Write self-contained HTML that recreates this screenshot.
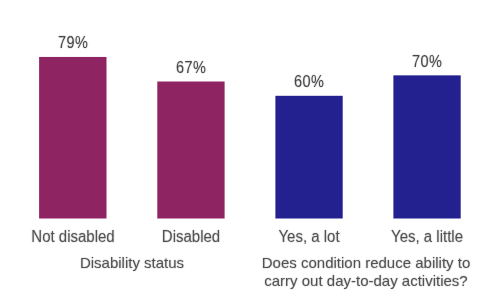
<!DOCTYPE html>
<html><head><meta charset="utf-8">
<style>
html,body{margin:0;padding:0;background:#fff;}
body{width:500px;height:295px;position:relative;overflow:hidden;font-family:"Liberation Sans",sans-serif;color:#535353;}
svg{position:absolute;left:0;top:0;}
.c{transform:scaleY(1.04);transform-origin:50% 50%;}
.v{color:#474747;transform:scaleY(1.08);transform-origin:50% 50%;font-size:14.5px !important;letter-spacing:0.4px;text-indent:0.4px;}


.t{position:absolute;white-space:nowrap;text-align:center;line-height:18px;font-size:15px;will-change:transform;text-shadow:1px 0 0 rgba(80,80,80,.1),-1px 0 0 rgba(80,80,80,.1),0 1px 0 rgba(80,80,80,.1),0 -1px 0 rgba(80,80,80,.1);}
</style></head><body>
<svg width="500" height="295" viewBox="0 0 500 295">
<rect x="39.1" y="56.95" width="67.4" height="161.55" fill="#8e2461"/>
<rect x="157.3" y="81.5" width="67.3" height="137" fill="#8e2461"/>
<rect x="275.4" y="95.8" width="67.3" height="122.7" fill="#23208f"/>
<rect x="393.4" y="75.35" width="67.3" height="143.15" fill="#23208f"/>
</svg>

<div class="t v" style="left:23px;width:100px;top:33.5px">79%</div>
<div class="t v" style="left:141px;width:100px;top:58.5px">67%</div>
<div class="t v" style="left:259px;width:100px;top:72.5px">60%</div>
<div class="t v" style="left:377px;width:100px;top:52.5px">70%</div>

<div class="t c" style="left:23px;width:100px;top:228px">Not disabled</div>
<div class="t c" style="left:141px;width:100px;top:228px">Disabled</div>
<div class="t c" style="left:259px;width:100px;top:228px">Yes, a lot</div>
<div class="t c" style="left:377px;width:100px;top:228px">Yes, a little</div>

<div class="t" style="left:32px;width:200px;top:254px">Disability status</div>
<div class="t" style="left:216px;width:300px;top:254px">Does condition reduce ability to<br>carry out day-to-day activities?</div>
</body></html>
